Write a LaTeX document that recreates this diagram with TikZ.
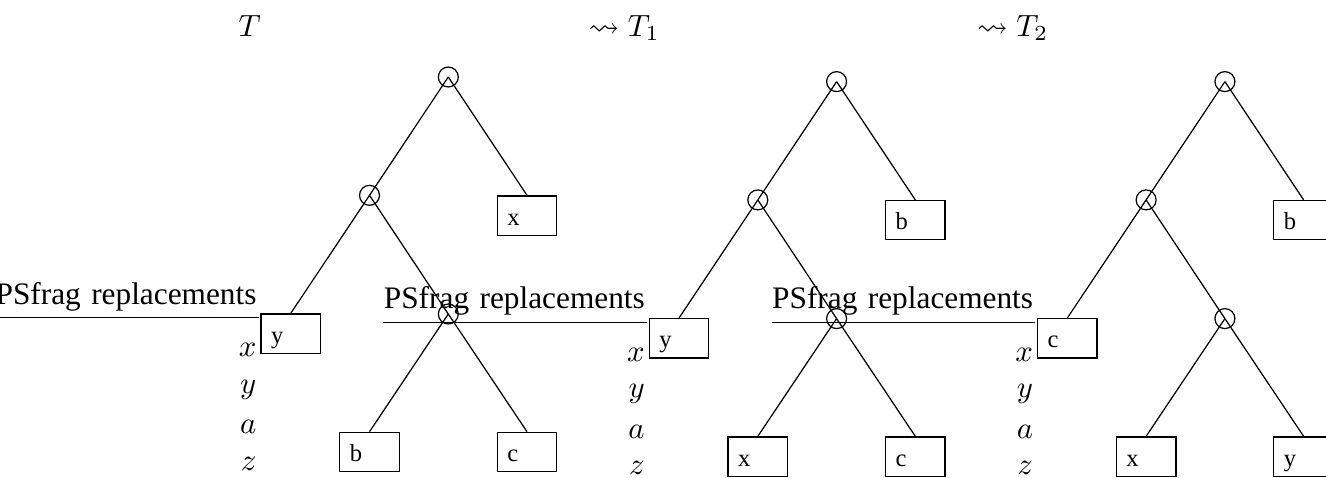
\documentclass[tikz,border=0pt]{standalone}
\usepackage{amsmath,amssymb}
\usepackage{fontspec}
\setmainfont{Liberation Serif}
\usepackage{tikz}

\begin{document}
\begin{tikzpicture}[
  x=0.3257pt, y=-0.3257pt, line width=0.4pt,
  inner/.style={circle, draw, minimum size=6.5pt, inner sep=0pt},
  leaf/.style={rectangle, draw, anchor=north, inner xsep=3.3pt, inner ysep=0pt, text width=12.8pt, align=left, minimum height=12.8pt, text height=6.3pt, text depth=0pt, font=\fontsize{8}{9}\selectfont},
  var/.style={anchor=base east, inner sep=0pt},
  psf/.style={anchor=base west, inner sep=0pt, text width=85.5pt, align=left, text depth=4.1pt, font=\fontsize{10.2}{12}\selectfont},
  head/.style={anchor=base west, inner sep=0pt},
]
\clip (0,0) rectangle (1326,477);

\node[head] (headT) at (238,36) {$T$};
\node[head] (headT1) at (588,36) {$\rightsquigarrow T_1$};
\node[head] (headT2) at (976.5,36) {$\rightsquigarrow T_2$};

\foreach \k/\dx/\dy/\la/\lb/\lc/\ld in {1/0/0/x/y/b/c, 2/388.3/4.6/b/y/x/c, 3/776.6/4.6/b/c/x/y}{
\begin{scope}[shift={(\dx,\dy)}]
  \node[inner] (root\k) at (448.3,77) {};
  \node[inner] (split\k) at (369.5,195.3) {};
  \node[inner] (low\k) at (448.3,314) {};
  \node[leaf] (top\k) at (527,195.3) {\la};
  \node[leaf] (side\k) at (290.7,313.4) {\lb};
  \node[leaf] (left\k) at (369.5,431.7) {\lc};
  \node[leaf] (right\k) at (527,431.7) {\ld};

  % leftover psfrag table
  \node[psf] (psf\k) at (-5,304.3) {PSfrag replacements};
  \draw (psf\k.south west) -- (psf\k.south east);
  \foreach \sym/\yy in {x/356.5, y/393, a/433.5, z/470}
    \node[var] (\sym\k) at (257,\yy) {$\sym$};

  \draw (root\k.center) -- (split\k.center);
  \draw (root\k.center) -- (top\k.north);
  \draw (split\k.center) -- (side\k.north);
  \draw (split\k.center) -- (low\k.center);
  \draw (low\k.center) -- (left\k.north);
  \draw (low\k.center) -- (right\k.north);
\end{scope}
}

\end{tikzpicture}
\end{document}
